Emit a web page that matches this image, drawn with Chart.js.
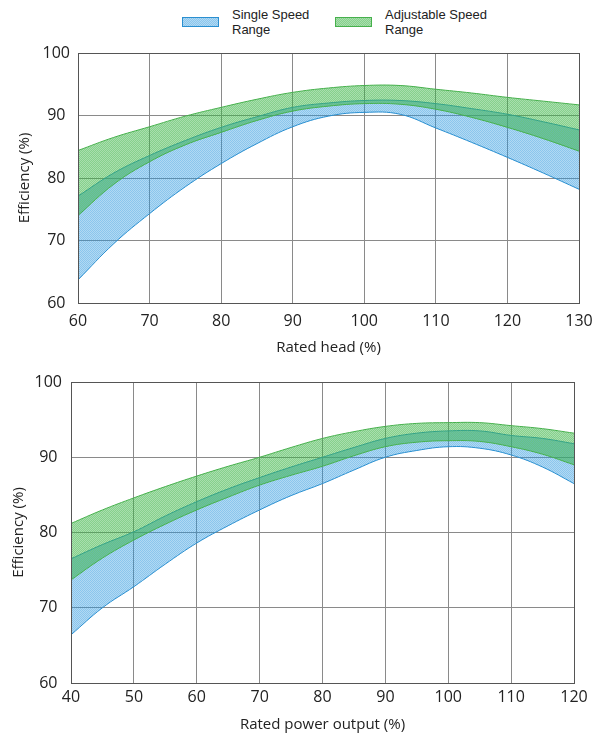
<!DOCTYPE html>
<html><head><meta charset="utf-8">
<script src="https://cdn.jsdelivr.net/npm/chart.js@4.4.0/dist/chart.umd.min.js"></script>
<style>
html,body{margin:0;padding:0;background:#fff;width:592px;height:736px;overflow:hidden;position:relative;font-family:"Liberation Sans",Arial,sans-serif;}
canvas{position:absolute;left:0;}
#c1{top:40px;} #c2{top:370px;}
.sw{position:absolute;top:17px;width:37px;height:10px;box-sizing:border-box;}
.lt{position:absolute;top:7px;font-size:13px;line-height:15px;color:#222;}
</style></head><body>
<div class="sw" id="sw1" style="left:182px;border:1px solid #2a8fd0;"></div>
<div class="lt" style="left:232px;">Single Speed<br>Range</div>
<div class="sw" id="sw2" style="left:335px;border:1px solid #46b04c;"></div>
<div class="lt" style="left:385px;">Adjustable Speed<br>Range</div>
<canvas id="c1" width="592" height="320"></canvas>
<canvas id="c2" width="592" height="366"></canvas>
<script>
// ---- Data: top chart (Rated head %) ----
const headX        = [60,65,70,75,80,85,90,95,100,105,110,115,120,125,130];
const headSingleLo = [63.7,69.5,74.3,78.6,82.3,85.5,88.2,89.9,90.5,90.2,88.0,85.7,83.3,80.8,78.2];
const headSingleHi = [77.1,80.8,83.6,86.0,88.1,89.8,91.3,92.0,92.4,92.4,91.9,91.1,90.2,89.0,87.7];
const headAdjLo    = [74.0,79.0,82.6,85.3,87.3,89.2,90.7,91.5,91.9,91.8,91.0,89.7,88.1,86.3,84.3];
const headAdjHi    = [84.4,86.5,88.2,89.9,91.3,92.6,93.7,94.4,94.8,94.8,94.2,93.6,92.9,92.3,91.7];
// ---- Data: bottom chart (Rated power output %) ----
const powX         = [40,45,50,55,60,65,70,75,80,85,90,95,100,105,110,115,120];
const powSingleLo  = [66.4,70.0,72.8,75.8,78.6,80.9,83.0,84.9,86.5,88.3,90.0,90.9,91.4,91.2,90.3,88.7,86.5];
const powSingleHi  = [76.5,78.4,80.1,82.2,84.1,85.8,87.3,88.7,90.0,91.3,92.5,93.2,93.5,93.5,92.9,92.5,91.8];
const powAdjLo     = [73.7,76.6,79.0,81.1,83.0,84.7,86.3,87.6,88.8,90.2,91.4,92.0,92.2,92.1,91.4,90.4,89.0];
const powAdjHi     = [81.2,83.0,84.6,86.1,87.5,88.8,90.0,91.3,92.5,93.4,94.1,94.5,94.6,94.6,94.2,93.8,93.2];
const seriesNames  = ['Single Speed Range','Adjustable Speed Range'];
const yTicks       = [60,70,80,90,100];

const BLUE='#2a8fd0', GREEN='#46b04c';
function tile(r,g,b,hi,lo,shift){
  const c=document.createElement('canvas'); c.width=4; c.height=4;
  const x=c.getContext('2d');
  for(let i=0;i<4;i++)for(let j=0;j<4;j++){
    const on=((i+j+shift)%2===0);
    x.fillStyle=`rgba(${r},${g},${b},${on?hi:lo})`;
    x.fillRect(i,j,1,1);
  }
  return c;
}
const blueTile=tile(40,150,222,0.54,0.36,0), greenTile=tile(60,180,70,0.62,0.44,1);
const ctx0=document.createElement('canvas').getContext('2d');
const bluePat=ctx0.createPattern(blueTile,'repeat'), greenPat=ctx0.createPattern(greenTile,'repeat');
document.getElementById('sw1').style.backgroundImage=`url(${blueTile.toDataURL()})`;
document.getElementById('sw2').style.backgroundImage=`url(${greenTile.toDataURL()})`;

const pts=(xs,ys)=>xs.map((x,i)=>({x:x,y:ys[i]}));
const frame={id:'frame',afterDraw(ch){const a=ch.chartArea,c=ch.ctx;c.save();c.strokeStyle='#555';c.lineWidth=1;
  c.strokeRect(Math.round(a.left)+0.5,Math.round(a.top)+0.5,Math.round(a.right-a.left),Math.round(a.bottom-a.top));c.restore();}};

function build(id,xs,sLo,sHi,aLo,aHi,xmin,xmax,xTitle,cfg){
  const line={pointRadius:0,borderWidth:1,tension:0.4};
  // Chart.js draws higher-index datasets first, so the green band (index 0/1) ends up on top of the blue band
  new Chart(document.getElementById(id),{
    type:'line',
    data:{datasets:[
      {...line,label:seriesNames[1]+' low',data:pts(xs,aLo),borderColor:GREEN,fill:false},
      {...line,label:seriesNames[1],data:pts(xs,aHi),borderColor:GREEN,backgroundColor:greenPat,fill:'-1'},
      {...line,label:seriesNames[0]+' low',data:pts(xs,sLo),borderColor:BLUE,fill:false},
      {...line,label:seriesNames[0],data:pts(xs,sHi),borderColor:BLUE,backgroundColor:bluePat,fill:'-1'}
    ]},
    options:{
      responsive:false,animation:false,devicePixelRatio:1,
      layout:{padding:{top:cfg.top,right:cfg.right,left:cfg.left,bottom:cfg.bottom}},
      plugins:{legend:{display:false},tooltip:{enabled:false}},
      scales:{
        x:{type:'linear',min:xmin,max:xmax,
          ticks:{stepSize:10,padding:cfg.xpad,color:'#222',font:{family:'Open Sans',size:16}},
          grid:{color:'#8a8a8a',drawTicks:false},border:{color:'#555'},
          title:{display:true,text:xTitle,color:'#222',padding:0,font:{family:'Open Sans',size:15}},
          afterFit(s){s.height=cfg.xh;s.paddingLeft=0;s.paddingRight=0;}},
        y:{type:'linear',min:60,max:100,
          afterBuildTicks(s){s.ticks=yTicks.map(v=>({value:v}));},
          ticks:{padding:cfg.ypad,crossAlign:'center',color:'#222',font:{family:'Open Sans',size:16}},
          grid:{color:'#8a8a8a',drawTicks:false},border:{color:'#555'},
          title:{display:true,text:'Efficiency (%)',color:'#222',padding:0,font:{family:'Open Sans',size:15}},
          afterFit(s){s.width=cfg.yw;s.paddingTop=0;s.paddingBottom=0;}}
      }
    },
    plugins:[frame]
  });
}
build('c1',headX,headSingleLo,headSingleHi,headAdjLo,headAdjHi,60,130,'Rated head (%)',
  {top:13,right:13,left:16,bottom:3,xh:54,yw:62,xpad:9,ypad:8});
build('c2',powX,powSingleLo,powSingleHi,powAdjLo,powAdjHi,40,120,'Rated power output (%)',
  {top:12,right:18,left:10,bottom:2,xh:51,yw:61,xpad:5,ypad:9});
</script></body></html>
